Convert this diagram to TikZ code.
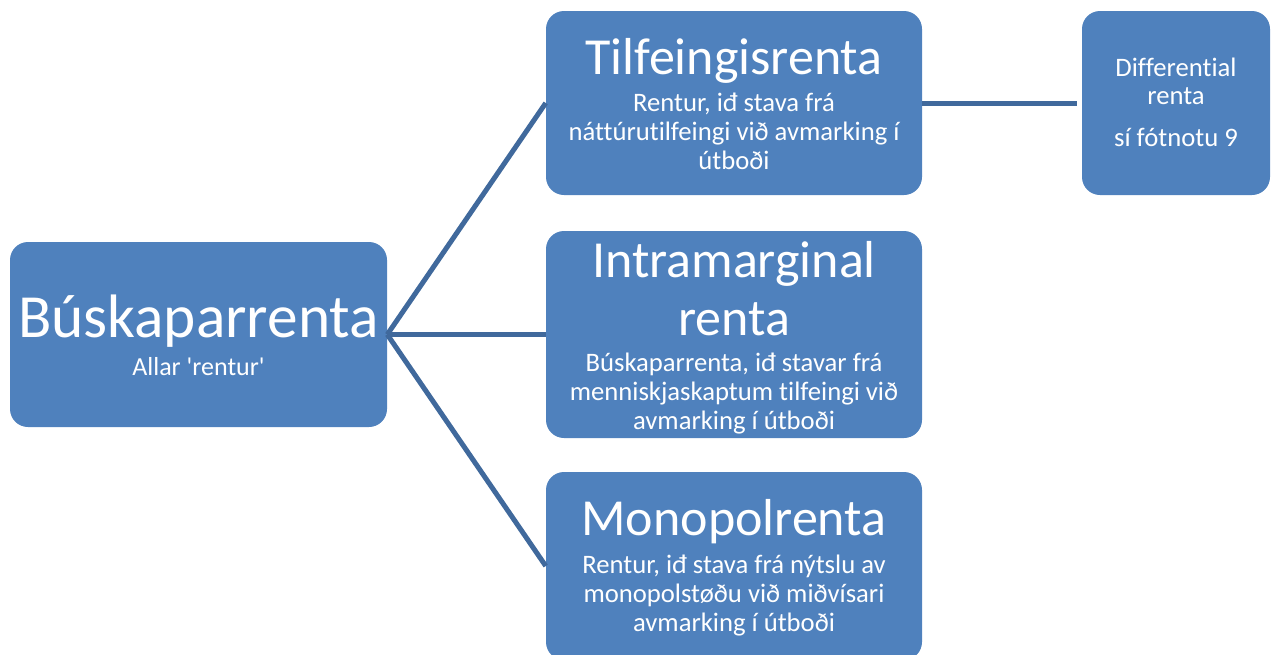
\documentclass[tikz,border=0pt]{standalone}
\usepackage{fontspec}
\setmainfont{Carlito}[Ligatures=NoCommon]
\definecolor{boxblue}{HTML}{4F81BD}
\definecolor{linkblue}{HTML}{40699C}
\begin{document}
\begin{tikzpicture}[x=0.75pt,y=-0.75pt,
  box/.style={draw=none, fill=boxblue, rounded corners=13.5pt, inner sep=0pt},
  link/.style={draw=linkblue, line width=3.75pt},
  txt/.style={text=white, anchor=base, inner sep=0pt, align=center},
  bigtitle/.style={txt, font={\fontsize{46}{52}\selectfont}},
  title/.style={txt, font={\fontsize{39}{43.5}\selectfont}},
  body/.style={txt, font={\fontsize{20}{21.4}\selectfont}},
  smallbody/.style={txt, font={\fontsize{19.5}{21}\selectfont}},
  diffbody/.style={txt, font={\fontsize{20}{21}\selectfont}}
]
\useasboundingbox (0,0) rectangle (1274,654);
\clip (0,0) rectangle (1274,654);

% boxes
\node[box, minimum width=282.75pt, minimum height=138.75pt] (b) at (198.5,334.5) {};
\node[box, minimum width=282pt, minimum height=138pt] (t) at (734,103) {};
\node[box, minimum width=282pt, minimum height=155.25pt] (i) at (734,334.5) {};
\node[box, minimum width=282pt, minimum height=141pt] (m) at (734,566) {};
\node[box, minimum width=141pt, minimum height=138pt] (d) at (1176,103) {};

% connectors
\draw[link] (b.east) -- (t.west);
\draw[link] (b.east) -- (i.west);
\draw[link] (b.east) -- (m.west);
\draw[link, shorten >=3.75pt] (t.east) -- (d.west);

% texts (anchor base = baseline of the last line)
\node[bigtitle] (bt) at (198.5,337) {Búskaparrenta};
\node[smallbody] (bs) at (198.5,375) {Allar \textquotesingle rentur\textquotesingle};

\node[title] (tt) at (734,74) {Tilfeingisrenta};
\node[body] (ts) at (734,169) {Rentur, iđ stava frá\\náttúrutilfeingi við avmarking í\\útboði};

\node[title] (it) at (734,335) {Intramarginal\\renta};
\node[body] (is) at (734,429) {Búskaparrenta, iđ stavar frá\\menniskjaskaptum tilfeingi við\\avmarking í útboði};

\node[title] (mt) at (734,535) {Monopolrenta};
\node[body] (ms) at (734,631) {Rentur, iđ stava frá nýtslu av\\monopolstøðu við miðvísari\\avmarking í útboði};

\node[diffbody] (dt) at (1176,104) {Differential\\renta};
\node[diffbody] (ds) at (1176,146) {sí fótnotu 9};
\end{tikzpicture}
\end{document}
